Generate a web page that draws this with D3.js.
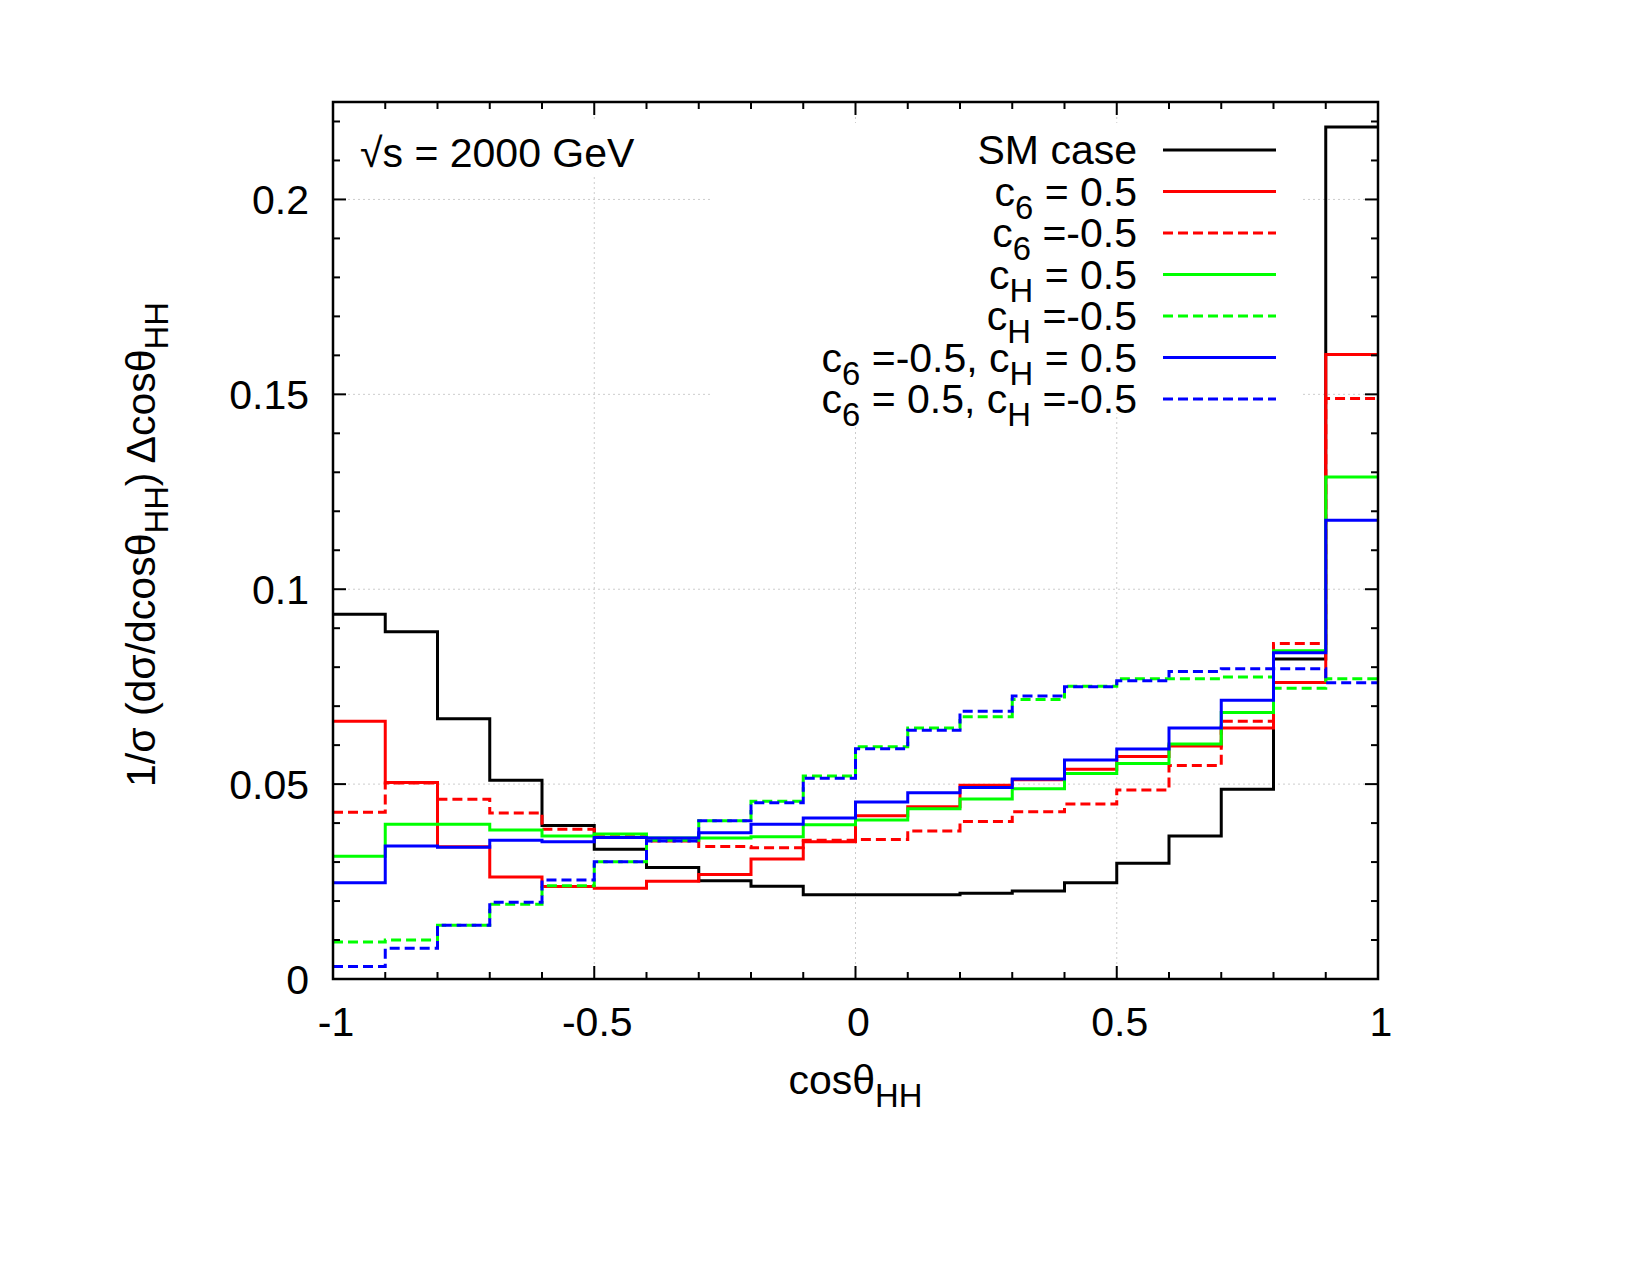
<!DOCTYPE html>
<html>
<head>
<meta charset="utf-8">
<script src="https://cdnjs.cloudflare.com/ajax/libs/d3/7.8.5/d3.min.js"></script>
<style>
  body { margin: 0; background: #fff; }
  text { font-family: "Liberation Sans", Arial, Helvetica, sans-serif; fill: #000; }
</style>
</head>
<body>
<svg id="chart" width="1650" height="1275"></svg>
<script>
// histogram of cos(theta_HH), 20 bins from -1 to 1

var binLeft = [-1.0, -0.9, -0.8, -0.7, -0.6, -0.5, -0.4, -0.3, -0.2, -0.1,
               0.0, 0.1, 0.2, 0.3, 0.4, 0.5, 0.6, 0.7, 0.8, 0.9];
var binEnd = 1.0;

var smCase        = [0.0936, 0.0891, 0.0668, 0.0510, 0.0394, 0.0333, 0.0286, 0.0252, 0.0238, 0.0216,
                     0.0216, 0.0216, 0.0220, 0.0226, 0.0247, 0.0297, 0.0367, 0.0487, 0.0821, 0.2186];
var c6Plus        = [0.0661, 0.0504, 0.0339, 0.0262, 0.0237, 0.0233, 0.0251, 0.0268, 0.0308, 0.0352,
                     0.0419, 0.0442, 0.0497, 0.0511, 0.0538, 0.0571, 0.0598, 0.0644, 0.0761, 0.1602];
var c6Minus       = [0.0428, 0.0503, 0.0461, 0.0426, 0.0384, 0.0365, 0.0354, 0.0340, 0.0337, 0.0356,
                     0.0358, 0.0380, 0.0404, 0.0429, 0.0449, 0.0485, 0.0548, 0.0661, 0.0861, 0.1489];
var cHPlus        = [0.0315, 0.0397, 0.0397, 0.0382, 0.0367, 0.0372, 0.0362, 0.0362, 0.0365, 0.0396,
                     0.0408, 0.0437, 0.0462, 0.0488, 0.0527, 0.0553, 0.0603, 0.0684, 0.0842, 0.1288];
var cHMinus       = [0.0095, 0.0100, 0.0138, 0.0192, 0.0239, 0.0301, 0.0356, 0.0406, 0.0456, 0.0521,
                     0.0596, 0.0644, 0.0673, 0.0717, 0.0751, 0.0770, 0.0770, 0.0775, 0.0746, 0.0770];
var c6MinuscHPlus = [0.0247, 0.0341, 0.0338, 0.0356, 0.0352, 0.0363, 0.0362, 0.0375, 0.0397, 0.0413,
                     0.0454, 0.0478, 0.0491, 0.0513, 0.0562, 0.0590, 0.0644, 0.0715, 0.0837, 0.1177];
var c6PluscHMinus = [0.0032, 0.0079, 0.0138, 0.0197, 0.0254, 0.0301, 0.0354, 0.0406, 0.0452, 0.0515,
                     0.0591, 0.0638, 0.0687, 0.0726, 0.0750, 0.0765, 0.0789, 0.0796, 0.0796, 0.0760];

var seriesLabels = ["SM case", "c_{6} = 0.5", "c_{6} =-0.5", "c_{H} = 0.5", "c_{H} =-0.5",
                    "c_{6} =-0.5, c_{H} = 0.5", "c_{6} = 0.5, c_{H} =-0.5"];
var seriesValues = [smCase, c6Plus, c6Minus, cHPlus, cHMinus, c6MinuscHPlus, c6PluscHMinus];
var seriesColors = ["#000000", "#ff0000", "#ff0000", "#00ff00", "#00ff00", "#0000ff", "#0000ff"];
var seriesDashed = [false, false, true, false, true, false, true];

var xMajorTicks = [-1, -0.5, 0, 0.5, 1];
var xTickLabels = ["-1", "-0.5", "0", "0.5", "1"];
var yMajorTicks = [0, 0.05, 0.1, 0.15, 0.2];
var yTickLabels = ["0", "0.05", "0.1", "0.15", "0.2"];
var xMinorTicks = [-0.9, -0.8, -0.7, -0.6, -0.4, -0.3, -0.2, -0.1, 0.1, 0.2, 0.3, 0.4, 0.6, 0.7, 0.8, 0.9];
var yMinorTicks = [0.01, 0.02, 0.03, 0.04, 0.06, 0.07, 0.08, 0.09, 0.11, 0.12, 0.13, 0.14,
                   0.16, 0.17, 0.18, 0.19, 0.21, 0.22];

var energyLabel = "\u221As = 2000 GeV";
var xTitle = "cos\u03b8_{HH}";
var yTitle = "1/\u03c3 (d\u03c3/dcos\u03b8_{HH}) \u0394cos\u03b8_{HH}";

var plot = {left: 333, right: 1378, top: 102, bottom: 979};
var fontSize = 41;
var lineW = 3;
var dash = "10,5";

var svg = d3.select("#chart");

var x = d3.scaleLinear().domain([-1, 1]).range([plot.left, plot.right]);
var y = d3.scaleLinear().domain([0, 0.225]).range([plot.bottom, plot.top]);

// gnuplot-style enhanced text: "_{..}" becomes a lowered, smaller tspan
function enhancedText(sel, str) {
    var parts = str.split(/(_\{[^}]*\})/).filter(function(p) { return p.length > 0; });
    var shift = Math.round(fontSize * 0.32);
    var pending = 0;
    parts.forEach(function(p) {
        var ts = sel.append("tspan");
        if (p.charAt(0) === "_") {
            ts.attr("dy", shift + pending).style("font-size", (fontSize * 0.8) + "px").text(p.slice(2, -1));
            pending = -shift;
        } else {
            if (pending) ts.attr("dy", pending);
            ts.text(p);
            pending = 0;
        }
    });
}

// grid (dotted, major ticks only)
var grid = svg.append("g").attr("stroke", "#cccccc").attr("stroke-width", 1).attr("stroke-dasharray", "2,3");
grid.selectAll("line.gy").data(yMajorTicks.slice(1)).enter().append("line")
    .attr("x1", plot.left).attr("x2", plot.right)
    .attr("y1", function(d) { return y(d); }).attr("y2", function(d) { return y(d); });
grid.selectAll("line.gx").data(xMajorTicks.slice(1, -1)).enter().append("line")
    .attr("y1", plot.top).attr("y2", plot.bottom)
    .attr("x1", function(d) { return x(d); }).attr("x2", function(d) { return x(d); });

// opaque key box and label box hide the grid behind them
svg.append("rect").attr("x", 710).attr("y", 123).attr("width", 590).attr("height", 290).attr("fill", "#fff");
svg.append("rect").attr("x", 352).attr("y", 122).attr("width", 290).attr("height", 52).attr("fill", "#fff");

// histogram steps
var line = d3.line()
    .x(function(d) { return x(d[0]); })
    .y(function(d) { return y(d[1]); })
    .curve(d3.curveStepAfter);

seriesValues.forEach(function(vals, i) {
    var pts = binLeft.map(function(b, k) { return [b, vals[k]]; });
    pts.push([binEnd, vals[vals.length - 1]]);
    svg.append("path")
        .attr("d", line(pts))
        .attr("fill", "none")
        .attr("stroke", seriesColors[i])
        .attr("stroke-width", lineW)
        .attr("stroke-dasharray", seriesDashed[i] ? dash : null);
});

// border + inward ticks on all four sides
var ticks = svg.append("g").attr("stroke", "#000").attr("stroke-width", 2);
function tickSet(vals, len) {
    vals.forEach(function(v) {
        ticks.append("line").attr("x1", plot.left).attr("x2", plot.left + len).attr("y1", y(v)).attr("y2", y(v));
        ticks.append("line").attr("x1", plot.right).attr("x2", plot.right - len).attr("y1", y(v)).attr("y2", y(v));
    });
}
function xtickSet(vals, len) {
    vals.forEach(function(v) {
        ticks.append("line").attr("y1", plot.bottom).attr("y2", plot.bottom - len).attr("x1", x(v)).attr("x2", x(v));
        ticks.append("line").attr("y1", plot.top).attr("y2", plot.top + len).attr("x1", x(v)).attr("x2", x(v));
    });
}
tickSet(yMajorTicks, 13);
tickSet(yMinorTicks, 7);
xtickSet(xMajorTicks, 13);
xtickSet(xMinorTicks, 7);
svg.append("rect")
    .attr("x", plot.left).attr("y", plot.top)
    .attr("width", plot.right - plot.left).attr("height", plot.bottom - plot.top)
    .attr("fill", "none").attr("stroke", "#000").attr("stroke-width", 2.5);

// tick labels
svg.selectAll("text.xt").data(xMajorTicks).enter().append("text")
    .attr("x", function(d) { return x(d) + 3; })
    .attr("y", 1036)
    .attr("text-anchor", "middle")
    .style("font-size", fontSize + "px")
    .text(function(d, i) { return xTickLabels[i]; });
svg.selectAll("text.yt").data(yMajorTicks).enter().append("text")
    .attr("x", 309)
    .attr("y", function(d) { return y(d) + 15; })
    .attr("text-anchor", "end")
    .style("font-size", fontSize + "px")
    .text(function(d, i) { return yTickLabels[i]; });

// axis titles
var xt = svg.append("text").attr("x", (plot.left + plot.right) / 2).attr("y", 1094)
    .attr("text-anchor", "middle").style("font-size", fontSize + "px");
enhancedText(xt, xTitle);
var yt = svg.append("text").attr("transform", "translate(155," + ((plot.top + plot.bottom) / 2 + 4) + ") rotate(-90)")
    .attr("text-anchor", "middle").style("font-size", fontSize + "px");
enhancedText(yt, yTitle);

svg.append("text").attr("x", 360).attr("y", 167).style("font-size", fontSize + "px").text(energyLabel);

// key
var keyTop = 150, keyStep = 41.5;
seriesLabels.forEach(function(lab, i) {
    var ly = keyTop + i * keyStep;
    var t = svg.append("text").attr("x", 1137).attr("y", ly + 14)
        .attr("text-anchor", "end").style("font-size", fontSize + "px");
    enhancedText(t, lab);
    svg.append("line")
        .attr("x1", 1163).attr("x2", 1276).attr("y1", ly).attr("y2", ly)
        .attr("stroke", seriesColors[i]).attr("stroke-width", lineW)
        .attr("stroke-dasharray", seriesDashed[i] ? dash : null);
});
</script>
</body>
</html>
